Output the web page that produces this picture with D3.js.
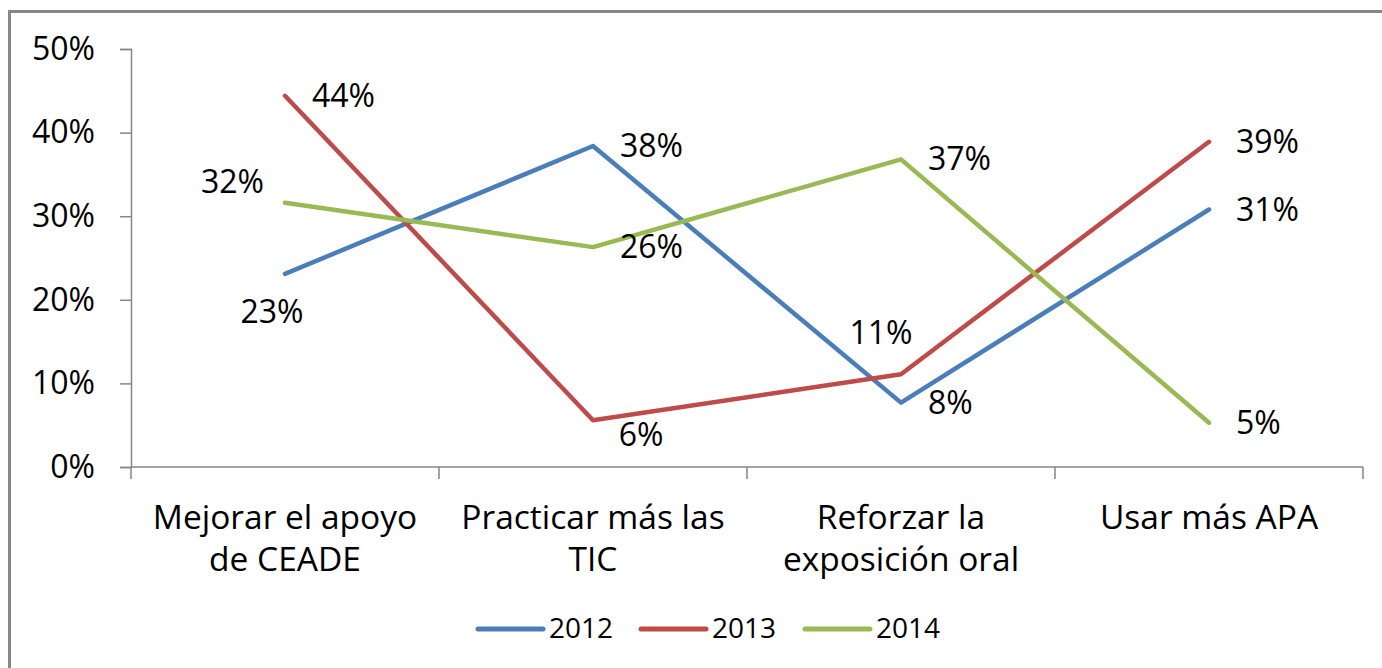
<!DOCTYPE html>
<html><head><meta charset="utf-8">
<script src="https://cdn.jsdelivr.net/npm/d3@7"></script>
<style>html,body{margin:0;padding:0;background:#fff;}svg{display:block;}</style>
</head><body>
<svg id="c" width="1382" height="668"></svg>
<script>
const categories = [["Mejorar el apoyo","de CEADE"],["Practicar más las","TIC"],["Reforzar la","exposición oral"],["Usar más APA"]];
const seriesNames = ["2012","2013","2014"];
const values2012 = [0.231, 0.384, 0.077, 0.308];
const values2013 = [0.444, 0.056, 0.111, 0.389];
const values2014 = [0.316, 0.263, 0.368, 0.053];
const yTicks = [0, 0.1, 0.2, 0.3, 0.4, 0.5];
const colors = ["#4A7EBB", "#BE4B48", "#98B954"];
// label placement per point (style)
const labelPlace = [
  ["below","right","right","right"],
  ["right","belowright","above","right"],
  ["left","right","right","right"]
];
const series = [values2012, values2013, values2014];

(function(){
const svg = d3.select("#c");
const font = "'Open Sans', sans-serif";
svg.append("rect").attr("x",9.5).attr("y",11.5).attr("width",1400).attr("height",700)
  .attr("fill","#fff").attr("stroke","#878787").attr("stroke-width",3);

const mL = 131, mR = 1363, mT = 49, mB = 467;
const x = d3.scaleBand().domain(d3.range(categories.length)).range([mL,mR]);
const y = d3.scaleLinear().domain([0,0.5]).range([mB,mT]);
const axisColor = "#868686";

const ya = svg.append("g").attr("transform",`translate(${mL},0)`)
  .call(d3.axisLeft(y).tickValues(yTicks).tickFormat(d3.format(".0%")).tickSize(11).tickPadding(25));
ya.select(".domain").attr("stroke",axisColor).attr("stroke-width",1.5);
ya.selectAll(".tick line").attr("stroke",axisColor).attr("stroke-width",1.5);
ya.selectAll(".tick text").attr("font-family",font).attr("font-size",32).attr("fill","#000");

const xa = svg.append("g").attr("transform",`translate(0,${mB})`);
xa.append("line").attr("x1",mL).attr("x2",mR).attr("stroke",axisColor).attr("stroke-width",1.5);
const bounds = x.domain().map(i=>x(i)).concat([mR]);
xa.selectAll("line.tk").data(bounds).enter().append("line").attr("class","tk")
  .attr("x1",d=>d).attr("x2",d=>d).attr("y1",0).attr("y2",12).attr("stroke",axisColor).attr("stroke-width",1.5);
categories.forEach((lines,i)=>{
  const t = xa.append("text").attr("text-anchor","middle").attr("font-family",font).attr("font-size",33.5).attr("fill","#000");
  lines.forEach((l,j)=>t.append("tspan").attr("x",x(i)+x.bandwidth()/2).attr("y",62+j*42).text(l));
});

const line = d3.line().x((d,i)=>x(i)+x.bandwidth()/2).y(d=>y(d));
series.forEach((s,k)=>{
  svg.append("path").datum(s).attr("d",line).attr("fill","none").attr("stroke",colors[k])
    .attr("stroke-width",4.5).attr("stroke-linejoin","round").attr("stroke-linecap","round");
});
const fmt = d3.format(".0%");
series.forEach((s,k)=>{
  s.forEach((v,i)=>{
    const px = x(i)+x.bandwidth()/2, py = y(v);
    const p = labelPlace[k][i];
    let tx=px, ty=py, anchor="start";
    if(p==="right"){tx=px+27;ty=py+11;}
    else if(p==="below"){tx=px-13;ty=py+49;anchor="middle";}
    else if(p==="belowright"){tx=px+48;ty=py+26;anchor="middle";}
    else if(p==="above"){tx=px-20;ty=py-30;anchor="middle";}
    else if(p==="left"){tx=px-21;ty=py-10;anchor="end";}
    svg.append("text").attr("x",tx).attr("y",ty).attr("text-anchor",anchor)
      .attr("font-family",font).attr("font-size",32).attr("fill","#000").text(fmt(v));
  });
});

const leg = svg.append("g");
const legX = [478, 641, 805];
seriesNames.forEach((n,k)=>{
  leg.append("line").attr("x1",legX[k]).attr("x2",legX[k]+65).attr("y1",629).attr("y2",629)
    .attr("stroke",colors[k]).attr("stroke-width",5).attr("stroke-linecap","round");
  leg.append("text").attr("x",legX[k]+71).attr("y",638).attr("font-family",font).attr("font-size",28)
    .attr("fill","#000").text(n);
});
})();
</script>
</body></html>
